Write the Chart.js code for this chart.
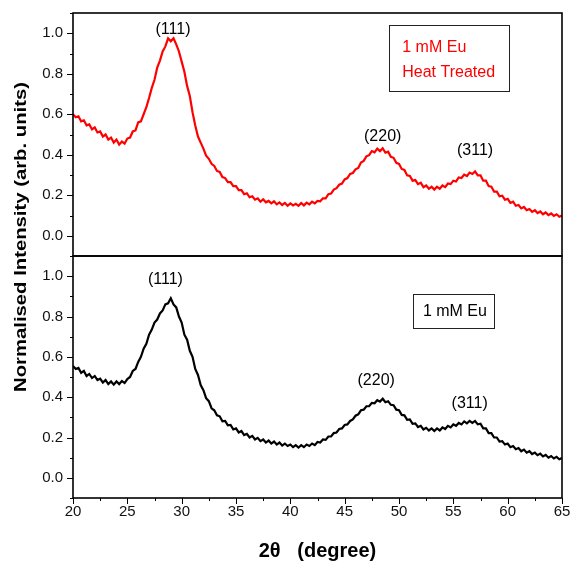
<!DOCTYPE html>
<html>
<head>
<meta charset="utf-8">
<script src="https://cdn.jsdelivr.net/npm/chart.js@4.4.0/dist/chart.umd.min.js"></script>
<style>
  body { margin: 0; background: #fff; }
  #wrap { position: relative; width: 571px; height: 571px; }
  canvas { position: absolute; left: 0; top: 0; }
</style>
</head>
<body>
<div id="wrap">
  <canvas id="bottomChart" width="571" height="571"></canvas>
  <canvas id="topChart" width="571" height="571"></canvas>
</div>
<script>
// sampling grid of the scans (2 theta, degrees)
const twoThetaStart = 20;
const twoThetaStep = 0.25;

// 1 mM Eu, heat treated (red, upper panel)
const heatTreated = [
  0.600,0.585,0.590,0.565,0.570,0.545,0.550,0.525,
  0.535,0.510,0.515,0.490,0.500,0.475,0.485,0.460,
  0.475,0.450,0.465,0.455,0.480,0.485,0.515,0.520,
  0.560,0.565,0.600,0.635,0.680,0.730,0.770,0.830,
  0.865,0.910,0.935,0.975,0.960,0.975,0.945,0.910,
  0.860,0.810,0.740,0.690,0.610,0.545,0.490,0.460,
  0.430,0.395,0.380,0.355,0.345,0.320,0.315,0.290,
  0.285,0.265,0.265,0.245,0.245,0.225,0.225,0.205,
  0.210,0.190,0.195,0.178,0.185,0.168,0.180,0.165,
  0.172,0.160,0.170,0.155,0.165,0.152,0.162,0.148,
  0.160,0.150,0.158,0.148,0.162,0.150,0.163,0.155,
  0.168,0.160,0.172,0.170,0.185,0.185,0.205,0.208,
  0.228,0.235,0.252,0.258,0.278,0.285,0.305,0.310,
  0.328,0.335,0.362,0.370,0.392,0.398,0.418,0.412,
  0.430,0.418,0.432,0.410,0.415,0.390,0.385,0.360,
  0.355,0.330,0.325,0.298,0.295,0.272,0.275,0.255,
  0.262,0.240,0.248,0.232,0.242,0.228,0.242,0.232,
  0.248,0.240,0.258,0.255,0.272,0.268,0.288,0.285,
  0.302,0.295,0.312,0.305,0.318,0.298,0.298,0.272,
  0.272,0.245,0.242,0.218,0.218,0.195,0.198,0.178,
  0.182,0.162,0.168,0.148,0.152,0.135,0.142,0.126,
  0.132,0.118,0.126,0.112,0.120,0.106,0.115,0.102,
  0.110,0.098,0.106,0.094,
  0.100
];

// 1 mM Eu (black, lower panel)
const asPrepared = [
  0.555,0.540,0.545,0.520,0.530,0.505,0.515,0.495,
  0.505,0.485,0.492,0.472,0.485,0.465,0.478,0.462,
  0.478,0.465,0.480,0.470,0.490,0.500,0.530,0.540,
  0.575,0.600,0.640,0.665,0.710,0.735,0.770,0.785,
  0.815,0.830,0.860,0.865,0.890,0.860,0.845,0.800,
  0.770,0.710,0.685,0.630,0.600,0.540,0.510,0.460,
  0.435,0.395,0.380,0.345,0.335,0.310,0.305,0.280,
  0.282,0.260,0.262,0.240,0.245,0.225,0.232,0.212,
  0.218,0.200,0.208,0.190,0.198,0.182,0.190,0.175,
  0.185,0.170,0.180,0.165,0.175,0.160,0.170,0.158,
  0.165,0.152,0.162,0.150,0.162,0.152,0.165,0.158,
  0.170,0.162,0.178,0.175,0.190,0.188,0.205,0.205,
  0.222,0.225,0.242,0.245,0.262,0.265,0.282,0.290,
  0.308,0.315,0.335,0.338,0.355,0.355,0.372,0.370,
  0.385,0.378,0.392,0.375,0.380,0.362,0.360,0.338,
  0.335,0.312,0.310,0.288,0.290,0.268,0.270,0.252,
  0.258,0.240,0.248,0.235,0.245,0.232,0.245,0.235,
  0.250,0.242,0.258,0.250,0.265,0.258,0.272,0.265,
  0.280,0.270,0.282,0.272,0.282,0.265,0.268,0.245,
  0.245,0.222,0.222,0.200,0.200,0.180,0.182,0.165,
  0.170,0.152,0.158,0.142,0.148,0.132,0.140,0.125,
  0.132,0.118,0.125,0.112,0.120,0.106,0.114,0.100,
  0.108,0.096,0.104,0.092,
  0.098
];

const xTicks = [20, 25, 30, 35, 40, 45, 50, 55, 60, 65];
const xMinorTicks = [22.5, 27.5, 32.5, 37.5, 42.5, 47.5, 52.5, 57.5, 62.5];
const yTicks = [0, 0.2, 0.4, 0.6, 0.8, 1.0];
const yMinorTicks = [-0.1, 0.1, 0.3, 0.5, 0.7, 0.9, 1.1];

const FONT = "'Liberation Sans', Arial, sans-serif";

function toPoints(values) {
  return values.map((v, i) => ({ x: twoThetaStart + i * twoThetaStep, y: v }));
}

// frame, hand-drawn tick marks, peak labels and sample box
const decor = {
  id: 'decor',
  afterDraw(chart, args, opts) {
    const { ctx, chartArea: a, scales } = chart;
    const xs = scales.x, ys = scales.y;
    ctx.save();
    ctx.strokeStyle = '#000';
    ctx.lineWidth = 1;
    ctx.beginPath();
    yTicks.forEach(v => { const p = Math.round(ys.getPixelForValue(v)) + 0.5; ctx.moveTo(a.left - 6, p); ctx.lineTo(a.left, p); });
    yMinorTicks.forEach(v => { const p = Math.round(ys.getPixelForValue(v)) + 0.5; ctx.moveTo(a.left - 3, p); ctx.lineTo(a.left, p); });
    if (opts.xAxisTicks) {
      xTicks.forEach(v => { const p = Math.round(xs.getPixelForValue(v)) + 0.5; ctx.moveTo(p, a.bottom); ctx.lineTo(p, a.bottom + 6); });
      xMinorTicks.forEach(v => { const p = Math.round(xs.getPixelForValue(v)) + 0.5; ctx.moveTo(p, a.bottom); ctx.lineTo(p, a.bottom + 3); });
    }
    ctx.stroke();

    ctx.lineWidth = 1.6;
    ctx.strokeRect(a.left, a.top, a.right - a.left, a.bottom - a.top);

    ctx.font = '16px ' + FONT;
    ctx.fillStyle = '#000';
    ctx.textAlign = 'center';
    ctx.textBaseline = 'middle';
    opts.peaks.forEach(p => ctx.fillText(p.text, xs.getPixelForValue(p.x), ys.getPixelForValue(p.y)));

    const b = opts.box;
    const bx0 = Math.round(xs.getPixelForValue(b.x0)) + 0.5, bx1 = Math.round(xs.getPixelForValue(b.x1)) + 0.5;
    const by0 = Math.round(ys.getPixelForValue(b.y0)) + 0.5, by1 = Math.round(ys.getPixelForValue(b.y1)) + 0.5;
    ctx.lineWidth = 1;
    ctx.strokeStyle = '#222';
    ctx.strokeRect(bx0, by0, bx1 - bx0, by1 - by0);
    ctx.fillStyle = b.color;
    ctx.textAlign = 'left';
    b.lines.forEach(l => ctx.fillText(l.text, xs.getPixelForValue(b.textX), ys.getPixelForValue(l.y)));

    if (opts.yTitle) {
      const title = 'Normalised Intensity (arb. units)';
      ctx.translate(21, 237);
      ctx.rotate(-Math.PI / 2);
      ctx.font = 'bold 17px ' + FONT;
      const w = ctx.measureText(title).width;
      ctx.scale(310 / w, 1);
      ctx.fillStyle = '#000';
      ctx.textAlign = 'center';
      ctx.fillText(title, 0, 0);
    }
    ctx.restore();
  }
};

function panelOptions(cfg) {
  return {
    responsive: false,
    animation: false,
    layout: { padding: cfg.padding },
    plugins: { legend: { display: false }, tooltip: { enabled: false }, decor: cfg.decor },
    elements: { point: { radius: 0 }, line: { tension: 0 } },
    scales: {
      x: {
        type: 'linear', min: 20, max: 65,
        display: cfg.showX,
        grid: { display: false, drawTicks: false, tickLength: 0 },
        border: { display: false },
        afterBuildTicks: s => { s.ticks = xTicks.map(v => ({ value: v })); },
        afterFit: s => { if (cfg.showX) s.height = 73; s.paddingLeft = 0; s.paddingRight = 0; },
        ticks: { color: '#111', padding: 5, font: { family: FONT, size: 15 }, maxRotation: 0, autoSkip: false },
        title: { display: cfg.showX, text: '2θ   (degree)', color: '#000', font: { family: FONT, size: 20, weight: 'bold' }, padding: { top: 0, bottom: 8 } }
      },
      y: {
        type: 'linear', min: -0.1, max: 1.1,
        grid: { display: false, drawTicks: false, tickLength: 0 },
        border: { display: false },
        afterBuildTicks: s => { s.ticks = yTicks.map(v => ({ value: v })); },
        afterFit: s => { s.width = 73; s.paddingTop = 0; s.paddingBottom = 0; },
        ticks: { color: '#111', padding: 10, font: { family: FONT, size: 15 }, callback: v => v.toFixed(1) }
      }
    }
  };
}

new Chart(document.getElementById('topChart'), {
  type: 'line',
  data: { datasets: [{ data: toPoints(heatTreated), borderColor: '#ff0000', borderWidth: 2.2 }] },
  options: panelOptions({
    showX: false,
    padding: { left: 0, top: 13, right: 9, bottom: 315 },
    decor: {
      yTitle: true,
      peaks: [
        { text: '(111)', x: 29.2, y: 1.02 },
        { text: '(220)', x: 48.5, y: 0.49 },
        { text: '(311)', x: 57.0, y: 0.42 }
      ],
      box: {
        x0: 49.1, x1: 60.1, y0: 1.04, y1: 0.713, color: '#ff0000', textX: 50.3,
        lines: [{ text: '1 mM Eu', y: 0.93 }, { text: 'Heat Treated', y: 0.805 }]
      }
    }
  }),
  plugins: [decor]
});

new Chart(document.getElementById('bottomChart'), {
  type: 'line',
  data: { datasets: [{ data: toPoints(asPrepared), borderColor: '#000000', borderWidth: 2.2 }] },
  options: panelOptions({
    showX: true,
    padding: { left: 0, top: 256, right: 9, bottom: 0 },
    decor: {
      xAxisTicks: true,
      peaks: [
        { text: '(111)', x: 28.5, y: 0.985 },
        { text: '(220)', x: 47.9, y: 0.48 },
        { text: '(311)', x: 56.5, y: 0.37 }
      ],
      box: {
        x0: 51.3, x1: 58.7, y0: 0.91, y1: 0.743, color: '#000', textX: 52.2,
        lines: [{ text: '1 mM Eu', y: 0.825 }]
      }
    }
  }),
  plugins: [decor]
});
</script>
</body>
</html>
